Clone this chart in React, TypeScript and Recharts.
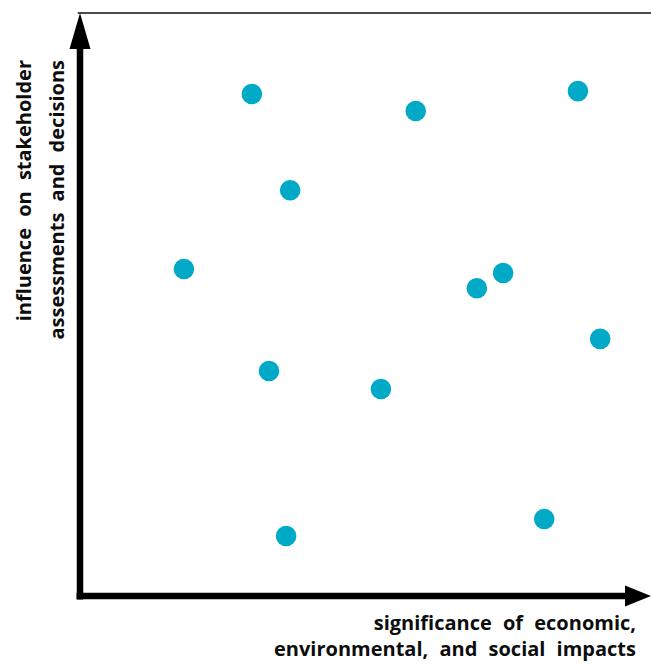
import { ScatterChart, Scatter, XAxis, YAxis, ReferenceLine, ReferenceDot, Customized } from "recharts";

// topic positions (significance vs. influence, 0-10 scale, no ticks shown)
const SIGNIFICANCE = [3.01, 5.88, 8.72, 3.68, 1.82, 7.41, 6.95, 9.11, 3.31, 5.27, 8.13, 3.61];
const INFLUENCE = [8.61, 8.32, 8.66, 6.96, 5.61, 5.54, 5.28, 4.41, 3.86, 3.55, 1.32, 1.03];

const X_LABEL = ["significance of economic,", "environmental, and social impacts"];
const Y_LABEL = ["influence on stakeholder", "assessments and decisions"];

const DOT = "#00AAC6";
const FONT = "'Open Sans', sans-serif";

const points = SIGNIFICANCE.map((x, i) => ({ x, y: INFLUENCE[i] }));

const Dot = (p: any) => <circle cx={p.cx} cy={p.cy} r={10.3} fill={DOT} />;

// arrow heads at the end of each axis
const UpArrow = (p: any) => (
  <polygon points={`${p.cx},${p.cy} ${p.cx - 10.5},${p.cy + 36} ${p.cx + 10.5},${p.cy + 36}`} fill="#000" />
);
const RightArrow = (p: any) => (
  <polygon points={`${p.cx},${p.cy} ${p.cx - 26},${p.cy - 10.5} ${p.cx - 26},${p.cy + 10.5}`} fill="#000" />
);

function AxisTitles() {
  const txt = { fill: "#0d0d0d", style: { wordSpacing: "6px" } };
  return (
    <g fontFamily={FONT} fontWeight={700} fontSize={20}>
      <text x={636} y={630} textAnchor="end" {...txt}>{X_LABEL[0]}</text>
      <text x={636} y={656} textAnchor="end" {...txt}>{X_LABEL[1]}</text>
      <text transform="translate(31,60) rotate(-90)" textAnchor="end" {...txt}>{Y_LABEL[0]}</text>
      <text transform="translate(64,60) rotate(-90)" textAnchor="end" {...txt}>{Y_LABEL[1]}</text>
    </g>
  );
}

export default function App() {
  return (
    <div style={{ position: "absolute", left: 0, top: 0, width: 651, height: 664, background: "#fff" }}>
      <ScatterChart width={651} height={664} margin={{ top: 13, right: 0, bottom: 68, left: 80 }}>
        <XAxis type="number" dataKey="x" domain={[0, 10]} hide />
        <YAxis type="number" dataKey="y" domain={[0, 10]} hide />

        {/* thin frame line along the top */}
        <ReferenceLine segment={[{ x: -0.04, y: 10 }, { x: 10, y: 10 }]} stroke="#111" strokeWidth={1.6} ifOverflow="visible" />

        {/* thick axes */}
        <ReferenceLine segment={[{ x: 0, y: -0.06 }, { x: 0, y: 9.4 }]} stroke="#000" strokeWidth={6.5} ifOverflow="visible" />
        <ReferenceLine segment={[{ x: -0.06, y: 0 }, { x: 9.6, y: 0 }]} stroke="#000" strokeWidth={6.5} ifOverflow="visible" />
        <ReferenceDot x={0} y={10} shape={UpArrow} ifOverflow="visible" />
        <ReferenceDot x={10} y={0} shape={RightArrow} ifOverflow="visible" />

        <Scatter data={points} shape={Dot} isAnimationActive={false} />
        <Customized component={<AxisTitles />} />
      </ScatterChart>
    </div>
  );
}
